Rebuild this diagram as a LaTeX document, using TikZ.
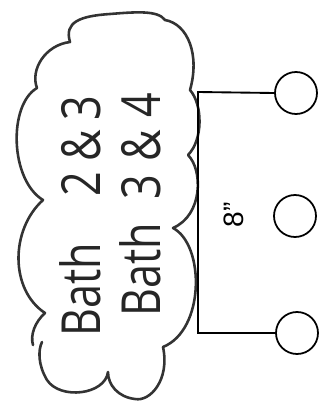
\documentclass[tikz,border=0pt]{standalone}
\usepackage{fontspec}
\newfontfamily\handfont[FakeStretch=0.8]{Open Sans}
\newfontfamily\printfont{Liberation Sans}
\usepackage{tikz}

\begin{document}
\begin{tikzpicture}[x=0.3mm, y=-0.3mm,
    cloudline/.style={line width=2.2pt, draw=black!80, line join=round, line cap=round},
    bathtext/.style={rotate=90, anchor=base west, inner sep=0pt, text=black!85,
      font=\handfont\fontsize{46}{52}\selectfont},
    sinkcirc/.style={draw, circle, line width=1.5pt, minimum size=12.6mm, inner sep=0pt},
    bracket/.style={line width=1.6pt}]
    \useasboundingbox (0,0) rectangle (327,413);
    % cloud
    \draw[cloudline] (33,345) .. controls (30,335) and (35,322) .. (45,313)
      .. controls (10,290) and (10,230) .. (43,200)
      .. controls (10,180) and (8,105) .. (37,88)
      .. controls (30,70) and (45,45) .. (70,42)
      .. controls (64,22) and (80,16) .. (110,14)
      .. controls (135,12) and (158,10) .. (165,20)
      .. controls (188,24) and (200,55) .. (190,90)
      .. controls (203,105) and (203,140) .. (188,155)
      .. controls (203,170) and (203,215) .. (173,228)
      .. controls (205,245) and (205,330) .. (163,347)
      .. controls (170,380) and (150,402) .. (135,399)
      .. controls (118,397) and (108,385) .. (108,372)
      .. controls (105,395) and (60,400) .. (47,380)
      .. controls (38,365) and (38,350) .. (42,342);
    \node[bathtext] (bathA) at (100,337) {Bath\hspace{14mm}2\hspace{3mm}\&\hspace{3mm}3};
    \node[bathtext] (bathB) at (160,317) {Bath\hspace{7mm}3\hspace{4mm}\&\hspace{4mm}4};
    % sinks
    \node[sinkcirc] (ctop) at (296,93) {};
    \node[sinkcirc] (cmid) at (295,216) {};
    \node[sinkcirc] (cbot) at (297,333) {};
    % bracket
    \coordinate (bend) at (198,92);
    \draw[bracket] (ctop.west) -- (bend) |- (cbot.west);
    \node[rotate=90, font=\printfont\fontsize{24}{28}\selectfont, anchor=base]
      (gap) at (243,215) {8”};
  \end{tikzpicture}
\end{document}
